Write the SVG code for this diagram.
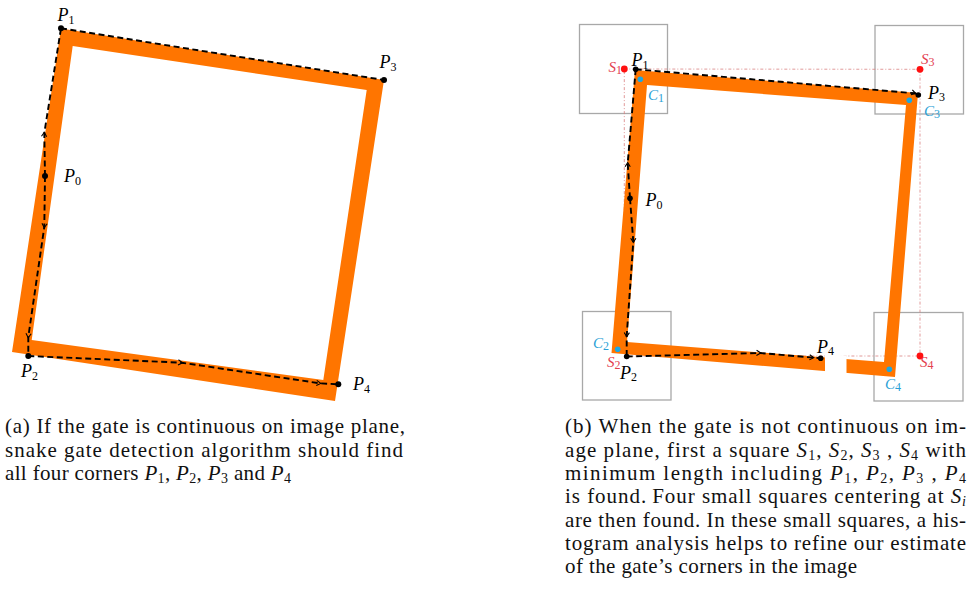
<svg xmlns="http://www.w3.org/2000/svg" width="980" height="592" viewBox="0 0 980 592">
<style>
.gate{fill:#ff7500;fill-rule:evenodd;stroke:none}
.dash{fill:none;stroke:#000;stroke-width:1.9;stroke-dasharray:6 3.5}
.dot{fill:#000}
.red{fill:#ff1010}
.cy{fill:#1ea7e1}
.box{fill:none;stroke:#a8a8a8;stroke-width:1.3}
.guide{fill:none;stroke:#d98080;stroke-width:0.8;stroke-dasharray:3 2 1 2}
.m{font-family:"Liberation Serif","Times New Roman",serif;font-style:italic;font-size:18px;fill:#000}
.ms{font-family:"Liberation Serif","Times New Roman",serif;font-style:italic;font-size:15px}
.sub{font-style:normal;font-size:12px}
.sr{fill:#e3404f}
.sc{fill:#2a9fd6}
.cap{font-family:"Liberation Serif","Times New Roman",serif;font-size:21px;fill:#111}
.ci{font-style:italic}
.cs{font-size:14px}
</style>
<defs>
<marker id="arr" viewBox="-5 -4 8 8" markerWidth="8" markerHeight="8" markerUnits="userSpaceOnUse" orient="auto" refX="0" refY="0">
<path d="M-3.5,-2.6 L0.8,0 L-3.5,2.6" fill="none" stroke="#000" stroke-width="1.1"/>
</marker>
</defs>

<!-- (a) -->
<g id="gate-a">
<path class="gate" d="M61,28.5 L384,80 L335,401 L12,352 Z M72.7,46 L31.7,340 L323.3,380 L366.7,90 Z"/>
</g>
<g id="connectors-a">
<polyline class="dash" points="45,176 44.3,133 61,28.3" marker-mid="url(#arr)"/>
<polyline class="dash" points="61,28.3 384,80"/>
<polyline class="dash" points="45,176 44.3,227 28.3,337 28.3,356" marker-mid="url(#arr)"/>
<polyline class="dash" points="28.3,356 181.7,362.7 320,383.3 338.3,384.3" marker-mid="url(#arr)"/>
</g>
<g id="P0a"><circle class="dot" cx="45" cy="176" r="3"/><text class="m" x="64" y="182">P<tspan class="sub" dy="2.5">0</tspan></text></g>
<g id="P1a"><circle class="dot" cx="61" cy="28.3" r="3"/><text class="m" x="57.5" y="21">P<tspan class="sub" dy="2.5">1</tspan></text></g>
<g id="P2a"><circle class="dot" cx="28.3" cy="356" r="3"/><text class="m" x="21" y="377">P<tspan class="sub" dy="2.5">2</tspan></text></g>
<g id="P3a"><circle class="dot" cx="384" cy="80" r="3"/><text class="m" x="379.5" y="68">P<tspan class="sub" dy="2.5">3</tspan></text></g>
<g id="P4a"><circle class="dot" cx="338.3" cy="384.3" r="3"/><text class="m" x="353" y="390">P<tspan class="sub" dy="2.5">4</tspan></text></g>

<!-- (b) -->
<g id="boxes-b">
<rect id="box1" class="box" x="579.5" y="24.5" width="88" height="89"/>
<rect id="box3" class="box" x="875" y="25.5" width="88.5" height="88.5"/>
<rect id="box2" class="box" x="582.5" y="311.5" width="88.5" height="88.5"/>
<rect id="box4" class="box" x="874" y="312.5" width="89" height="88.5"/>
</g>
<g id="guides-b">
<polygon class="guide" points="624.3,69 920,69.3 920,356 624.3,356"/>
</g>
<g id="gate-b">
<path class="gate" d="M635,70 L918,93 L895,377 L611.5,353 Z M647,85 L627,342 L884,362 L906,105 Z"/>
<polygon points="825,354 846.5,355.5 846.5,377.5 825,376.5" fill="#fff"/>
</g>
<g id="connectors-b">
<polyline class="dash" points="630,198.3 627.7,163.3 635.7,69.3" marker-mid="url(#arr)"/>
<polyline class="dash" points="635.7,69.3 915,93.3 918.3,95" marker-mid="url(#arr)"/>
<polyline class="dash" points="630,198.3 633.3,241.7 626.7,336 626.7,356.5" marker-mid="url(#arr)"/>
<polyline class="dash" points="626.7,356.5 760,353 813,357.6 820.7,358.3" marker-mid="url(#arr)"/>
</g>
<g id="S1"><circle class="red" cx="624.3" cy="69" r="3.4"/><text class="ms sr" x="608.5" y="72">S<tspan class="sub" font-size="10" dy="2">1</tspan></text></g>
<g id="S3"><circle class="red" cx="920" cy="69.3" r="3.4"/><text class="ms sr" x="921" y="63.5">S<tspan class="sub" font-size="10" dy="2">3</tspan></text></g>
<g id="S4"><circle class="red" cx="920" cy="356" r="3.4"/><text class="ms sr" x="920" y="367">S<tspan class="sub" font-size="10" dy="2">4</tspan></text></g>
<g id="S2"><text class="ms sr" x="607" y="367">S<tspan class="sub" font-size="10" dy="2">2</tspan></text></g>
<g id="C1"><circle class="cy" cx="640.3" cy="79.3" r="2.8"/><text class="ms sc" x="648" y="100">C<tspan class="sub" font-size="10" dy="2">1</tspan></text></g>
<g id="C3"><circle class="cy" cx="909.3" cy="100.3" r="2.8"/><text class="ms sc" x="924" y="116">C<tspan class="sub" font-size="10" dy="2">3</tspan></text></g>
<g id="C2"><circle class="cy" cx="617.7" cy="349.3" r="2.8"/><text class="ms sc" x="593" y="348">C<tspan class="sub" font-size="10" dy="2">2</tspan></text></g>
<g id="C4"><circle class="cy" cx="889.3" cy="369.3" r="2.8"/><text class="ms sc" x="885" y="389">C<tspan class="sub" font-size="10" dy="2">4</tspan></text></g>
<g id="P0b"><circle class="dot" cx="630" cy="198.3" r="2.8"/><text class="m" x="645.5" y="206">P<tspan class="sub" dy="2.5">0</tspan></text></g>
<g id="P1b"><circle class="dot" cx="635.7" cy="69.3" r="2.8"/><text class="m" x="631.5" y="66">P<tspan class="sub" dy="2.5">1</tspan></text></g>
<g id="P2b"><circle class="dot" cx="626.7" cy="356.5" r="2.8"/><text class="m" x="620" y="378.5">P<tspan class="sub" dy="2.5">2</tspan></text></g>
<g id="P3b"><circle class="dot" cx="918.3" cy="95" r="2.8"/><text class="m" x="928" y="99">P<tspan class="sub" dy="2">3</tspan></text></g>
<g id="P4b"><circle class="dot" cx="820.7" cy="358.3" r="2.8"/><text class="m" x="817" y="352.5">P<tspan class="sub" dy="2.5">4</tspan></text></g>

<!-- captions -->
<g id="caption-a" class="cap">
<text x="5" y="433.3" textLength="400" lengthAdjust="spacing">(a)<tspan dx="6">If the gate is continuous on image plane,</tspan></text>
<text x="5" y="456.7" textLength="398" lengthAdjust="spacing">snake gate detection algorithm should find</text>
<text x="5" y="480" textLength="286" lengthAdjust="spacing">all four corners <tspan class="ci">P</tspan><tspan class="cs" dy="3">1</tspan><tspan dy="-3">, </tspan><tspan class="ci">P</tspan><tspan class="cs" dy="3">2</tspan><tspan dy="-3">, </tspan><tspan class="ci">P</tspan><tspan class="cs" dy="3">3</tspan><tspan dy="-3"> and </tspan><tspan class="ci">P</tspan><tspan class="cs" dy="3">4</tspan></text>
</g>
<g id="caption-b" class="cap">
<text x="565" y="433.3" textLength="401" lengthAdjust="spacing">(b)<tspan dx="6">When the gate is not continuous on im-</tspan></text>
<text x="565" y="456.7" textLength="401" lengthAdjust="spacing">age plane, first a square <tspan class="ci">S</tspan><tspan class="cs" dy="3">1</tspan><tspan dy="-3">, </tspan><tspan class="ci">S</tspan><tspan class="cs" dy="3">2</tspan><tspan dy="-3">, </tspan><tspan class="ci">S</tspan><tspan class="cs" dy="3">3</tspan><tspan dy="-3"> , </tspan><tspan class="ci">S</tspan><tspan class="cs" dy="3">4</tspan><tspan dy="-3"> with</tspan></text>
<text x="565" y="480" textLength="401" lengthAdjust="spacing">minimum length including <tspan class="ci">P</tspan><tspan class="cs" dy="3">1</tspan><tspan dy="-3">, </tspan><tspan class="ci">P</tspan><tspan class="cs" dy="3">2</tspan><tspan dy="-3">, </tspan><tspan class="ci">P</tspan><tspan class="cs" dy="3">3</tspan><tspan dy="-3"> , </tspan><tspan class="ci">P</tspan><tspan class="cs" dy="3">4</tspan></text>
<text x="565" y="503.3" textLength="401" lengthAdjust="spacing">is found.<tspan dx="5">Four small squares centering at </tspan><tspan class="ci">S</tspan><tspan class="cs ci" dy="3">i</tspan></text>
<text x="565" y="526.7" textLength="401" lengthAdjust="spacing">are then found. In these small squares, a his-</text>
<text x="565" y="550" textLength="401" lengthAdjust="spacing">togram analysis helps to refine our estimate</text>
<text x="565" y="573.3" textLength="292" lengthAdjust="spacing">of the gate’s corners in the image</text>
</g>
</svg>
